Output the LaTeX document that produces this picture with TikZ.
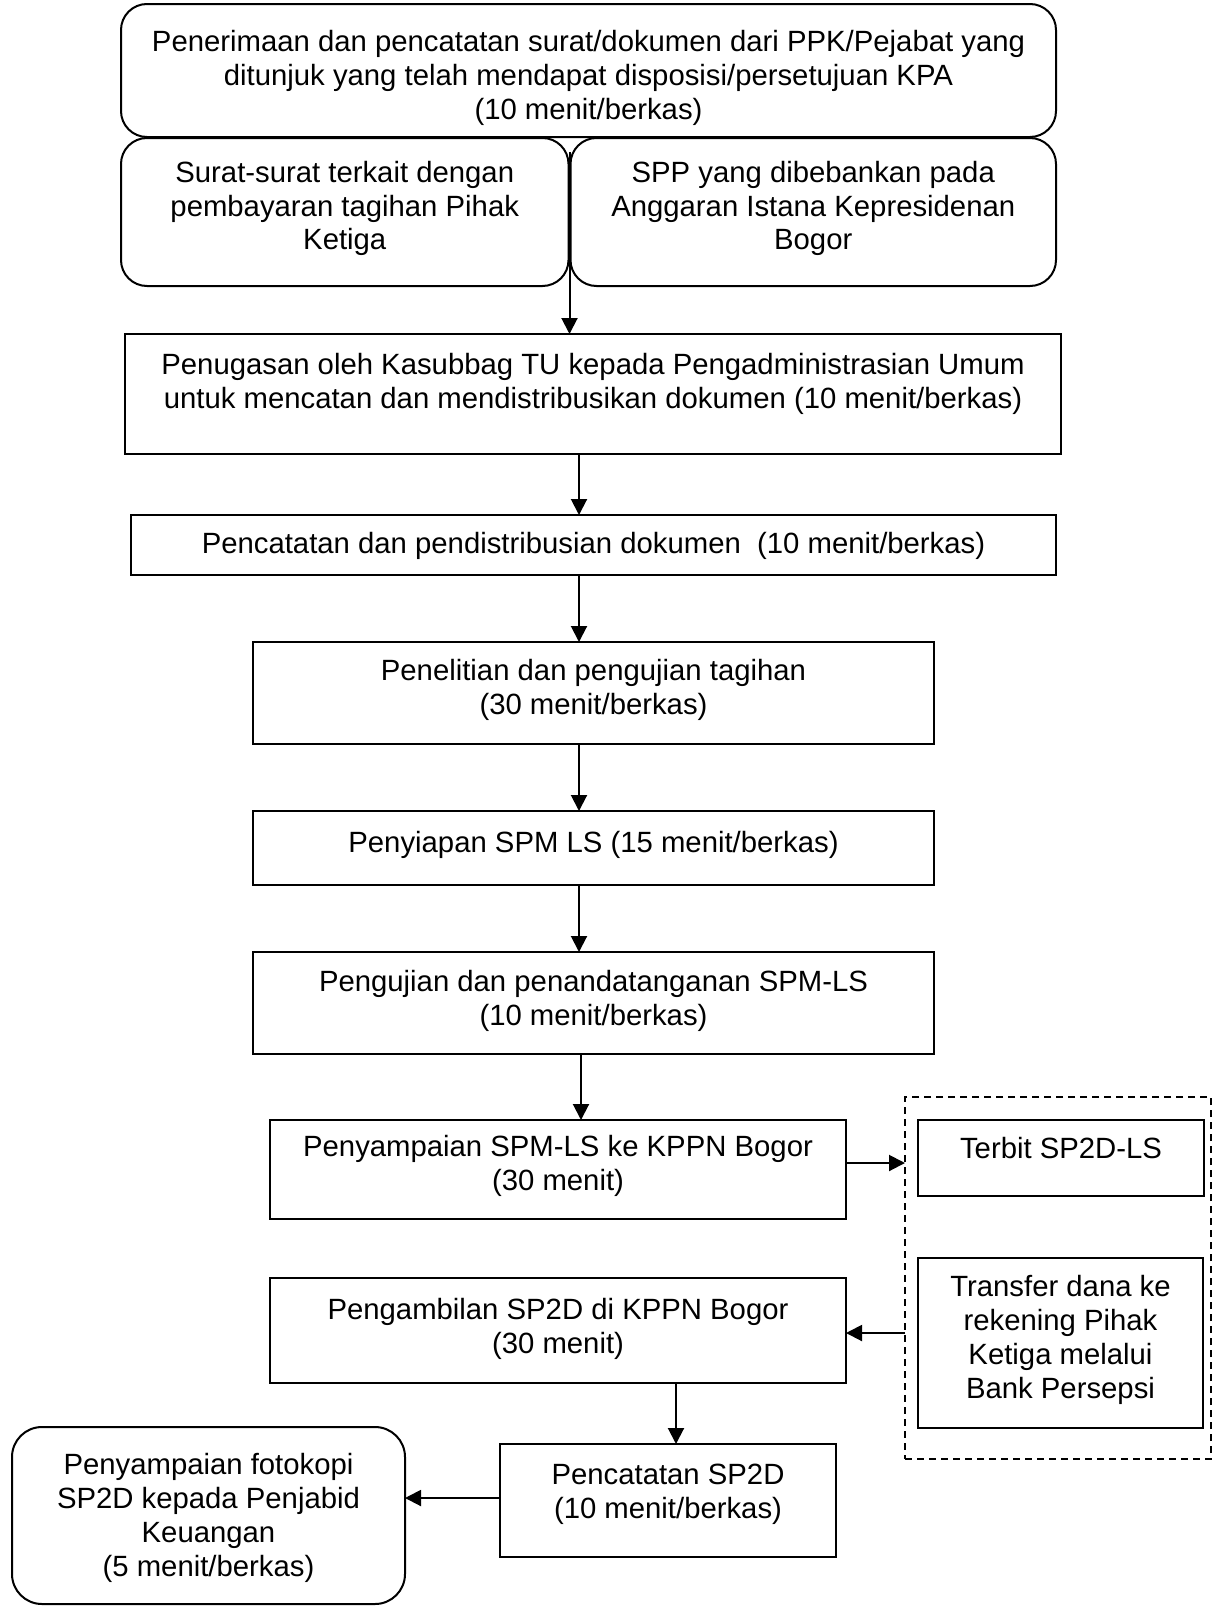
\documentclass[tikz,border=0pt]{standalone}
\usepackage{fontspec}
\setmainfont{Liberation Sans}
\usetikzlibrary{arrows.meta,calc}
\begin{document}
\begin{tikzpicture}[x=1pt,y=-1pt,line width=2pt,
  box/.style={draw,rectangle,outer sep=0pt,inner sep=0pt},
  rbox/.style={box,rounded corners=26pt},
  txt/.style={align=center,inner sep=0pt,font=\fontsize{29.3}{33.8}\selectfont},
  arr/.style={-{Triangle[length=16pt,width=16pt]}},
  dashbox/.style={draw,rectangle,outer sep=0pt,inner sep=0pt,line width=1.5pt,dash pattern=on 7pt off 5pt}]
\useasboundingbox (0,0) rectangle (1213,1606);
% boxes
\node[rbox,minimum width=935,minimum height=133] (b1) at (588.5,70.5) {};
\node[rbox,minimum width=447.5,minimum height=148] (s1) at (344.75,212) {};
\node[rbox,minimum width=485.5,minimum height=148] (s2) at (813.25,212) {};
\node[box,minimum width=936,minimum height=120] (b2) at (593,394) {};
\node[box,minimum width=925,minimum height=60] (b3) at (593.5,545) {};
\node[box,minimum width=681,minimum height=102] (b4) at (593.5,693) {};
\node[box,minimum width=681,minimum height=74] (b5) at (593.5,848) {};
\node[box,minimum width=681,minimum height=102] (b6) at (593.5,1003) {};
\node[box,minimum width=576,minimum height=99] (b7) at (558,1169.5) {};
\node[dashbox,minimum width=306,minimum height=362] (dash) at (1058,1278) {};
\node[box,minimum width=286,minimum height=76] (b7a) at (1061,1158) {};
\node[box,minimum width=285,minimum height=170] (b7b) at (1060.5,1343) {};
\node[box,minimum width=576,minimum height=105] (b8) at (558,1330.5) {};
\node[box,minimum width=336,minimum height=113] (b9) at (668,1500.5) {};
\node[box,rounded corners=30pt,minimum width=393,minimum height=177] (b10) at (208.5,1515.5) {};
% texts
\node[txt] (t1) at (588.5,78) {Penerimaan dan pencatatan surat/dokumen dari PPK/Pejabat yang\\ditunjuk yang telah mendapat disposisi/persetujuan KPA\\(10 menit/berkas)};
\node[txt] (ts1) at (344.75,208.5) {Surat-surat terkait dengan\\pembayaran tagihan Pihak\\Ketiga};
\node[txt] (ts2) at (813.25,208.5) {SPP yang dibebankan pada\\Anggaran Istana Kepresidenan\\Bogor};
\node[txt] (t2) at (593,384) {Penugasan oleh Kasubbag TU kepada Pengadministrasian Umum\\untuk mencatan dan mendistribusikan dokumen (10 menit/berkas)};
\node[txt] (t3) at (593.5,546) {Pencatatan dan pendistribusian dokumen\ \ (10 menit/berkas)};
\node[txt] (t4) at (593.5,690) {Penelitian dan pengujian tagihan\\(30 menit/berkas)};
\node[txt] (t5) at (593.5,845) {Penyiapan SPM LS (15 menit/berkas)};
\node[txt] (t6) at (593.5,1001) {Pengujian dan penandatanganan SPM-LS\\(10 menit/berkas)};
\node[txt] (t7) at (558,1166) {Penyampaian SPM-LS ke KPPN Bogor\\(30 menit)};
\node[txt] (t7a) at (1061,1148) {Terbit SP2D-LS};
\node[txt] (t7b) at (1060.5,1340) {Transfer dana ke\\rekening Pihak\\Ketiga melalui\\Bank Persepsi};
\node[txt] (t8) at (558,1329) {Pengambilan SP2D di KPPN Bogor\\(30 menit)};
\node[txt] (t9) at (668,1494) {Pencatatan SP2D\\(10 menit/berkas)};
\node[txt] (t10) at (208.5,1518) {Penyampaian fotokopi\\SP2D kepada Penjabid\\Keuangan\\(5 menit/berkas)};
% connectors
\coordinate (g) at (569.5,152);
\draw[arr] (g) -- (g |- b2.north);
\draw[arr] ($(b2.south)+(-14,0)$) -- ($(b3.north)+(-14.5,0)$);
\draw[arr] ($(b3.south)+(-14.5,0)$) -- ($(b4.north)+(-14.5,0)$);
\draw[arr] ($(b4.south)+(-14.5,0)$) -- ($(b5.north)+(-14.5,0)$);
\draw[arr] ($(b5.south)+(-14.5,0)$) -- ($(b6.north)+(-14.5,0)$);
\draw[arr] ($(b6.south)+(-12.5,0)$) -- ($(b7.north)+(23,0)$);
\draw[arr] ($(b7.east)+(0,-6.5)$) -- ($(b7.east -| dash.west)+(0,-6.5)$);
\draw[arr] ($(dash.west |- b8.east)+(0,2.5)$) -- ($(b8.east)+(0,2.5)$);
\draw[arr] ($(b8.south)+(118,0)$) -- ($(b9.north)+(8,0)$);
\draw[arr] ($(b9.west)+(0,-2.5)$) -- ($(b10.east |- b9.west)+(0,-2.5)$);
\end{tikzpicture}
\end{document}
